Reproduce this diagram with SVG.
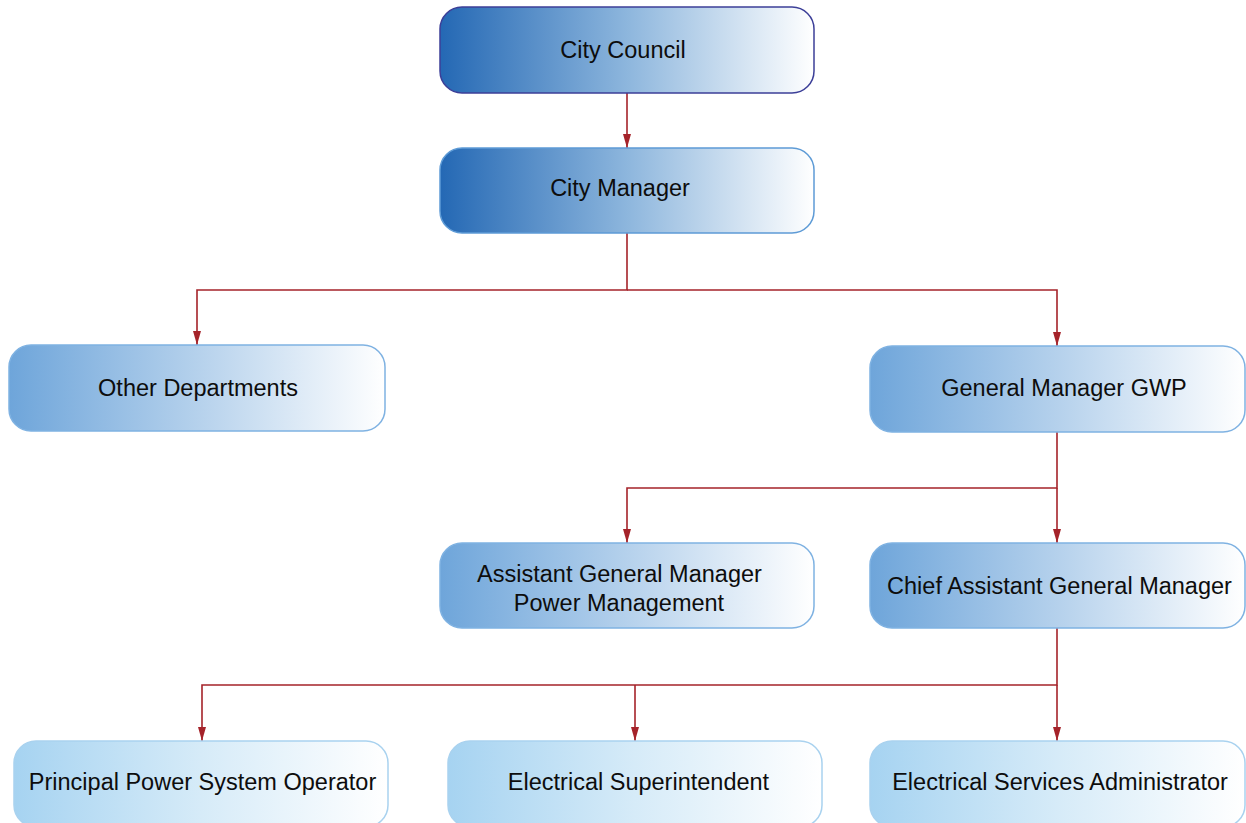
<svg xmlns="http://www.w3.org/2000/svg" width="1246" height="823" viewBox="0 0 1246 823">
<defs>
<linearGradient id="gTop" x1="0" y1="0" x2="1" y2="0">
<stop offset="0" stop-color="#2468b4"/>
<stop offset="0.5" stop-color="#8db6dd"/>
<stop offset="1" stop-color="#ffffff"/>
</linearGradient>
<linearGradient id="gMid" x1="0" y1="0" x2="1" y2="0">
<stop offset="0" stop-color="#6ea5da"/>
<stop offset="0.5" stop-color="#b5d1ec"/>
<stop offset="1" stop-color="#ffffff"/>
</linearGradient>
<linearGradient id="gLow" x1="0" y1="0" x2="1" y2="0">
<stop offset="0" stop-color="#a6d3f1"/>
<stop offset="0.5" stop-color="#d6ebf8"/>
<stop offset="1" stop-color="#ffffff"/>
</linearGradient>
<marker id="arr" viewBox="0 0 14 8" refX="14" refY="4" markerWidth="14" markerHeight="8" markerUnits="userSpaceOnUse" orient="auto">
<path d="M0,0 L14,4 L0,8 Z" fill="#a5232a"/>
</marker>
</defs>
<style>
.top{fill:url(#gTop);stroke:#3c3f98;stroke-width:1.5}
.mgr{fill:url(#gTop);stroke:#5e9bd6;stroke-width:1.5}
.mid{fill:url(#gMid);stroke:#7fb2e2;stroke-width:1.5}
.low{fill:url(#gLow);stroke:#a9d2ef;stroke-width:1.5}
text{font-family:"Liberation Sans",Arial,sans-serif;font-size:23.5px;fill:#0d0d0d;text-anchor:middle}
.c{fill:none;stroke:#a5232a;stroke-width:1.6}
</style>
<rect width="1246" height="823" fill="#ffffff"/>
<g id="connectors">
<path class="c" d="M627,93 V148" marker-end="url(#arr)"/>
<path class="c" d="M627,233 V290 H197 V345" marker-end="url(#arr)"/>
<path class="c" d="M627,290 H1057 V346" marker-end="url(#arr)"/>
<path class="c" d="M1057,432 V488 H627 V543" marker-end="url(#arr)"/>
<path class="c" d="M1057,488 V543" marker-end="url(#arr)"/>
<path class="c" d="M1057,628 V685 H202 V741" marker-end="url(#arr)"/>
<path class="c" d="M635,685 V741" marker-end="url(#arr)"/>
<path class="c" d="M1057,685 V741" marker-end="url(#arr)"/>
</g>
<g id="city-council">
<rect class="top" x="440" y="7" width="374" height="86" rx="22"/>
<text x="623" y="58">City Council</text>
</g>
<g id="city-manager">
<rect class="mgr" x="440" y="148" width="374" height="85" rx="22"/>
<text x="620" y="196">City Manager</text>
</g>
<g id="other-departments">
<rect class="mid" x="9" y="345" width="376" height="86" rx="22"/>
<text x="198" y="396">Other Departments</text>
</g>
<g id="general-manager-gwp">
<rect class="mid" x="870" y="346" width="375" height="86" rx="22"/>
<text x="1064" y="396">General Manager GWP</text>
</g>
<g id="assistant-gm">
<rect class="mid" x="440" y="543" width="374" height="85" rx="22"/>
<text x="619.5" y="582">Assistant General Manager</text>
<text x="619" y="611">Power Management</text>
</g>
<g id="chief-assistant-gm">
<rect class="mid" x="870" y="543" width="375" height="85" rx="22"/>
<text x="1059.5" y="594">Chief Assistant General Manager</text>
</g>
<g id="principal-power-system-operator">
<rect class="low" x="14" y="741" width="374" height="86" rx="22"/>
<text x="202.5" y="790">Principal Power System Operator</text>
</g>
<g id="electrical-superintendent">
<rect class="low" x="448" y="741" width="374" height="86" rx="22"/>
<text x="638.5" y="790">Electrical Superintendent</text>
</g>
<g id="electrical-services-administrator">
<rect class="low" x="870" y="741" width="375" height="86" rx="22"/>
<text x="1060" y="790">Electrical Services Administrator</text>
</g>
</svg>
